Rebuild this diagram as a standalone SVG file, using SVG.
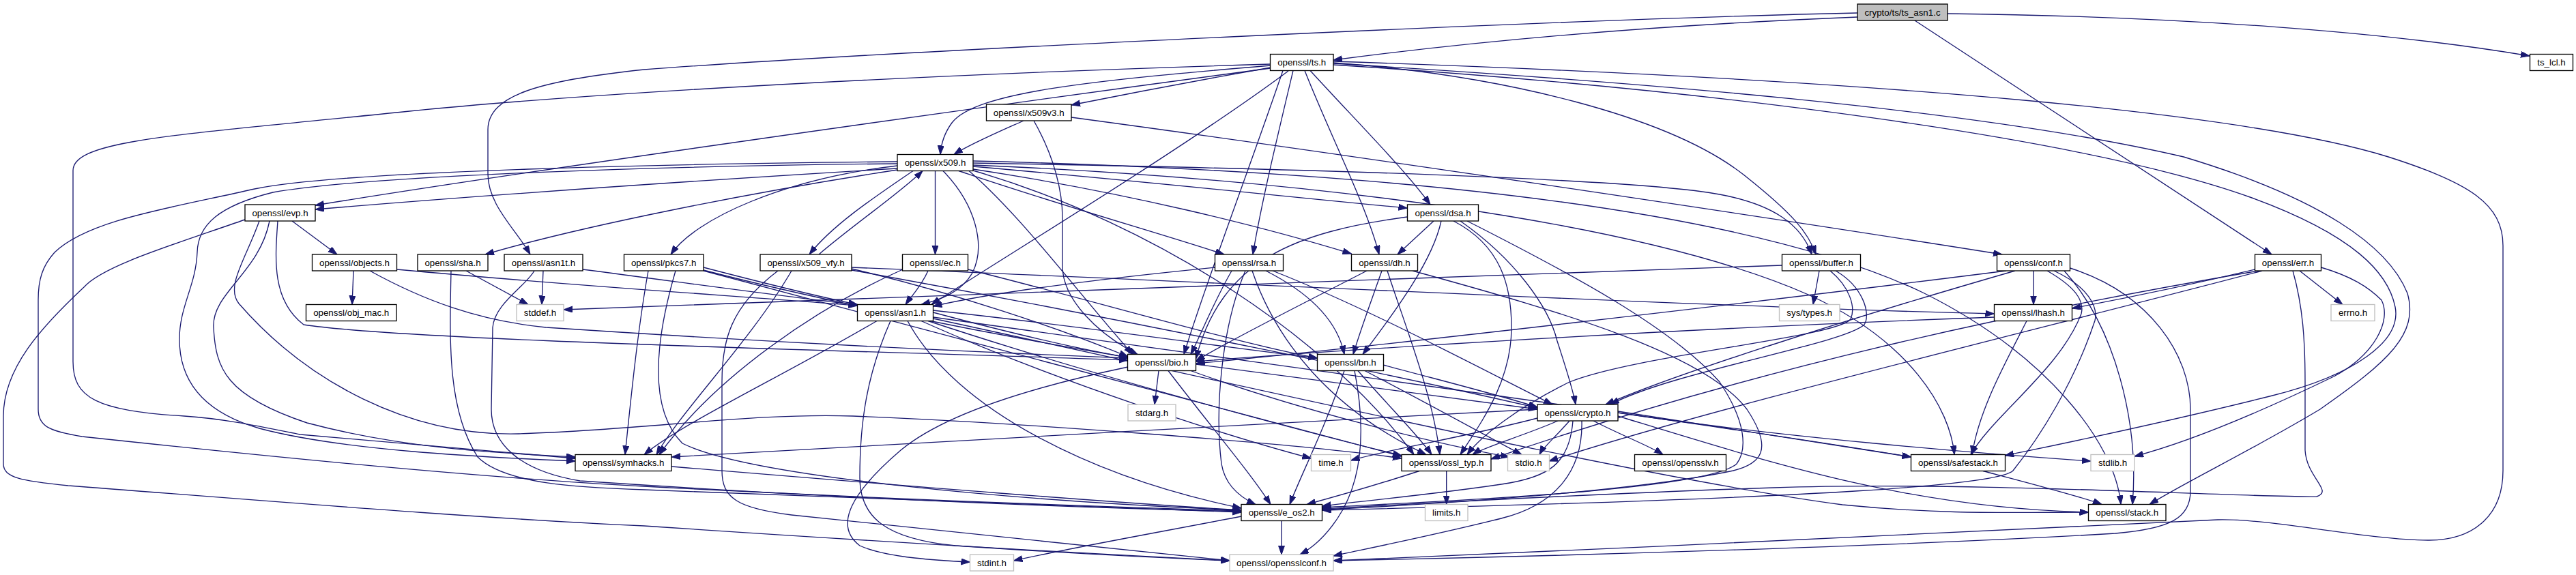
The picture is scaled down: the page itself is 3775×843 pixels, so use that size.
<svg xmlns="http://www.w3.org/2000/svg" width="3775" height="843" viewBox="0 0 3775 843">
<style>
.e{fill:none;stroke:#191970;stroke-width:1.33;marker-end:url(#a)}
.n rect{fill:#fff;stroke:#000;stroke-width:1.33}
.g rect{fill:#fff;stroke:#bfbfbf;stroke-width:1.33}
.m rect{fill:#bfbfbf;stroke:#000;stroke-width:1.33}
text{font-family:"Liberation Sans",Helvetica,Arial,sans-serif;font-size:13.33px;text-anchor:middle;fill:#000}
</style>
<defs>
<marker id="a" markerUnits="userSpaceOnUse" markerWidth="14" markerHeight="10" refX="13" refY="4.5" orient="auto"><path d="M0,0L13,4.5L0,9z" fill="#191970" stroke="#191970" stroke-width="1"/></marker>
</defs>
<rect width="3775" height="843" fill="#fff"/>
<g id="edges">
<path class="e" d="M2722,25 C2400,38 2150,62 1954,88"/>
<path class="e" d="M2854,20 C3200,24 3500,47 3707,82"/>
<path class="e" d="M2806,30 L3329,373"/>
<path class="e" d="M2722,19 C2300,28 1300,75 944,102 C790,118 715,140 715,190 L715,255 C715,300 755,335 777,373"/>
<path class="e" d="M1862,99 C1760,117 1640,140 1570,154"/>
<path class="e" d="M1862,96 C1600,118 1430,135 1395,180 C1384,195 1379,212 1378,226.5"/>
<path class="e" d="M1862,100 C1300,175 700,262 462,301"/>
<path class="e" d="M1862,94 C1400,108 900,133 600,163 C260,198 107,205 107,250 L107,530 C107,583 140,602 270,610 C330,614 380,625 440,637 L843,672"/>
<path class="e" d="M1888,104 C1740,215 1450,390 1365,446.5"/>
<path class="e" d="M1895,103.5 C1872,200 1848,300 1836,373"/>
<path class="e" d="M1912,103.5 C1950,200 2002,300 2021,373"/>
<path class="e" d="M1920,103.5 C1990,180 2060,250 2096,300"/>
<path class="e" d="M1954,92 C2200,110 2450,170 2560,260 C2625,312 2650,340 2661,373"/>
<path class="e" d="M1954,90 C2800,118 3300,168 3500,230 C3620,268 3668,300 3668,360 L3668,690 C3668,760 3620,792 3560,792 C3470,792 3330,760 3250,762 C3100,766 2400,805 1954,822"/>
<path class="e" d="M1954,93 C2400,120 2900,160 3200,230 C3400,290 3500,360 3528,430 C3545,490 3500,530 3400,600 C3300,660 3200,708 3150,739.5"/>
<path class="e" d="M1954,95 C2500,130 3050,200 3300,290 C3450,345 3500,400 3510,450 C3520,500 3450,550 3330,580 C3150,625 3000,655 2938,668"/>
<path class="e" d="M1880,103.5 C1830,250 1765,420 1735,519.5"/>
<path class="e" d="M1500,177 C1462,194 1420,212 1398,226.5"/>
<path class="e" d="M1515,177 C1545,230 1557,280 1557,320 L1557,390 C1557,440 1610,490 1667,519.5"/>
<path class="e" d="M1570,172 C2000,230 2600,320 2934,373"/>
<path class="e" d="M1315,247 C1000,266 700,287 462,307"/>
<path class="e" d="M1315,249 C1100,282 850,332 711,373"/>
<path class="e" d="M1315,243 C1150,262 1020,320 983,373"/>
<path class="e" d="M1338,250.5 C1280,290 1220,330 1186,373"/>
<path class="e" d="M1200,373 C1250,330 1320,282 1352,250.5"/>
<path class="e" d="M1370.5,250.5 L1370.5,373"/>
<path class="e" d="M1405,250.5 C1550,300 1700,342 1794,373"/>
<path class="e" d="M1426,244 C1700,268 1900,290 2062.5,305"/>
<path class="e" d="M1426,248 C1650,282 1850,332 1980.5,372"/>
<path class="e" d="M1426,239 C1900,247 2400,262 2520,285 C2600,300 2640,330 2655,373"/>
<path class="e" d="M1382,250.5 C1430,300 1445,360 1425,400 C1408,430 1375,440 1350,446.5"/>
<path class="e" d="M1315,237 C1000,240 500,250 373,277 C250,305 130,322 80,370 C62,390 56,410 56,440 L56,600 C56,625 72,632 120,640 C400,670 700,700 944,713 C1300,732 1650,744 1819,749"/>
<path class="e" d="M1315,240 C1000,243 550,256 400,282 C320,302 290,330 289,370 C287,420 262,450 263,500 C264,560 300,605 380,628 C500,660 700,670 843,676"/>
<path class="e" d="M1420,250.5 C1500,320 1580,430 1660,519.5"/>
<path class="e" d="M1426,236 C2000,250 2550,300 2820,430 C3000,520 3100,650 3108,739.5"/>
<path class="e" d="M1426,242 C1900,262 2400,322 2650,432 C2800,500 2858,600 2864,666.5"/>
<path class="e" d="M1426,250 C1700,330 1950,500 2072,666.5"/>
<path class="e" d="M1248,392 C1700,410 2500,450 2922.5,460"/>
<path class="e" d="M1248,394 C1400,430 1550,480 1653,523"/>
<path class="e" d="M1248,396 C1600,460 2000,540 2253,598"/>
<path class="e" d="M1160,397 C1100,500 1000,600 962,666.5"/>
<path class="e" d="M1140,397 C1070,450 1058,500 1058,560 L1058,690 C1058,730 1080,745 1160,755 C1400,780 1650,805 1802,822"/>
<path class="e" d="M428,324 L494,373"/>
<path class="e" d="M407,324 C403,380 398,440 445,476 C600,500 1300,515 1653,528"/>
<path class="e" d="M380,324 C360,380 330,420 350,445 C450,560 600,640 760,636 C950,630 1100,605 1250,610 C1500,620 1900,650 2054,672"/>
<path class="e" d="M395,324 C380,400 310,430 313,480 C316,540 330,580 450,620 C600,660 750,665 843,670"/>
<path class="e" d="M359,322 C250,360 150,390 123,421 C60,480 5,540 5,610 L5,680 C5,700 30,705 100,712 C400,735 700,760 944,771 C1300,795 1600,812 1802,822"/>
<path class="e" d="M518,397 L516,446.5"/>
<path class="e" d="M581.5,395 C850,420 1100,435 1256.5,448"/>
<path class="e" d="M542,397 C620,440 700,470 800,480 C1100,500 1400,515 1653,525"/>
<path class="e" d="M683,397 L774,446.5"/>
<path class="e" d="M661,397 C659,500 655,600 700,670 C740,710 850,715 944,718 C1300,730 1650,745 1819,751"/>
<path class="e" d="M796,397 L794,446.5"/>
<path class="e" d="M854,395 C1000,414 1150,435 1256.5,447"/>
<path class="e" d="M783,397 C770,420 725,445 722,480 L720,600 C720,650 760,690 850,705 C1300,735 1650,746 1819,750"/>
<path class="e" d="M1031,392 C1100,410 1200,435 1256.5,446.5"/>
<path class="e" d="M1031,396 C1200,440 1450,490 1653,524"/>
<path class="e" d="M990,397 C960,500 950,600 1000,650 C1100,700 1500,735 1819,748"/>
<path class="e" d="M950,397 C935,480 925,580 916,666.5"/>
<path class="e" d="M1031,397 C1300,470 1800,600 2054,669"/>
<path class="e" d="M1360,397 C1350,420 1335,435 1327,446.5"/>
<path class="e" d="M1323,395 C1200,450 1050,550 966,666.5"/>
<path class="e" d="M1418.5,395 C1600,440 1800,500 1930.5,525"/>
<path class="e" d="M1780.5,392 C1600,410 1450,430 1367.5,449"/>
<path class="e" d="M1805,397 C1780,440 1760,490 1745,519.5"/>
<path class="e" d="M1855,397 C1920,430 1960,470 1970,519.5"/>
<path class="e" d="M1835,397 C1870,500 1950,600 2090,666.5"/>
<path class="e" d="M1865,397 C2000,450 2150,530 2275,593"/>
<path class="e" d="M1825,397 C1790,480 1780,600 1790,680 C1795,710 1815,728 1840,739.5"/>
<path class="e" d="M2101,324 L2048,373"/>
<path class="e" d="M2112,324 C2100,380 2050,450 1997,519.5"/>
<path class="e" d="M2062.5,318 C1900,340 1790,380 1752.5,526"/>
<path class="e" d="M2130,324 C2200,360 2215,420 2215,480 C2215,560 2170,620 2140,666.5"/>
<path class="e" d="M2140,324 C2220,380 2270,450 2282,500 C2295,540 2305,570 2309,593"/>
<path class="e" d="M2150,324 C2300,400 2450,480 2520,560 C2560,620 2560,660 2545,680 C2500,720 2100,735 1937.5,744"/>
<path class="e" d="M2025,397 C2010,440 1995,480 1983,519.5"/>
<path class="e" d="M2033,397 C2060,480 2100,580 2110,666.5"/>
<path class="e" d="M2003,397 C1900,450 1800,500 1752.5,529"/>
<path class="e" d="M2070,397 C2300,460 2500,520 2560,600 C2600,660 2580,680 2540,690 C2400,720 2100,740 1937.5,747"/>
<path class="e" d="M2611.5,389 C2000,410 1200,440 826,454"/>
<path class="e" d="M2666,397 L2657,446.5"/>
<path class="e" d="M2682,397 C2710,420 2720,450 2712,468 C2690,495 2400,520 2300,560 C2220,600 2170,640 2150,666.5"/>
<path class="e" d="M2690,397 C2730,420 2742,460 2732,476 C2700,505 2450,545 2360,593"/>
<path class="e" d="M2980,397 L2980,446.5"/>
<path class="e" d="M3000,397 C3040,420 3055,440 3050,460 C3020,540 2920,610 2888,666.5"/>
<path class="e" d="M3010,397 C3060,420 3075,450 3070,470 C3040,560 2990,640 2950,690 C2930,710 2700,730 1937.5,748"/>
<path class="e" d="M3033.5,393 C3150,430 3210,520 3210,600 L3210,720 C3210,760 3180,775 3100,782 C2800,800 2300,815 1954,822"/>
<path class="e" d="M2953,397 C2700,470 2450,550 2353,593"/>
<path class="e" d="M2940,397 C2600,440 2000,510 1752.5,533"/>
<path class="e" d="M3025,397 C3100,480 3135,620 3125,739.5"/>
<path class="e" d="M3370,397 L3433,446.5"/>
<path class="e" d="M3401.5,392 C3445,405 3470,420 3490,440 C3505,470 3480,520 3420,552 C3300,610 3200,650 3128,669"/>
<path class="e" d="M3304.5,395 C3200,420 3100,440 3036.5,452"/>
<path class="e" d="M3360,397 C3375,450 3378,500 3378,560 L3378,660 C3380,700 3420,720 3395,728 C3300,730 2900,705 2600,715 C2300,725 2050,740 1937.5,746"/>
<path class="e" d="M3315,397 C3000,480 2500,600 2270,676"/>
<path class="e" d="M3310,397 C3000,450 2600,530 2185,673"/>
<path class="e" d="M2922.5,465 C2500,480 2000,510 1752.5,530"/>
<path class="e" d="M2970,470.5 C2940,530 2900,600 2890,666.5"/>
<path class="e" d="M1698,543.5 L1692,593"/>
<path class="e" d="M1653,538 C1500,570 1380,610 1320,660 C1250,720 1220,770 1260,800 C1300,818 1380,822 1421.5,824"/>
<path class="e" d="M1712,543.5 C1770,620 1830,690 1862,739.5"/>
<path class="e" d="M1752.5,534 C1950,560 2150,585 2253,600"/>
<path class="e" d="M1745,543.5 C1900,600 2100,650 2212,670"/>
<path class="e" d="M1970,543.5 C1945,620 1905,700 1890,739.5"/>
<path class="e" d="M1985,543.5 C2000,620 2000,700 1960,760 C1940,790 1920,805 1905,813"/>
<path class="e" d="M1990,543.5 C2030,590 2080,640 2098,666.5"/>
<path class="e" d="M2000,543.5 C2090,590 2180,640 2230,666.5"/>
<path class="e" d="M2027,535 C2120,560 2200,580 2253,597"/>
<path class="e" d="M2253,600 C1900,620 1300,650 984,670"/>
<path class="e" d="M2253,613 C2150,640 2030,660 1979.5,675"/>
<path class="e" d="M2283,617 C2230,640 2175,655 2158,666.5"/>
<path class="e" d="M2300,617 C2280,640 2262,655 2256,666.5"/>
<path class="e" d="M2305,617 C2300,680 2270,700 2200,710 C2100,725 1990,735 1937.5,742"/>
<path class="e" d="M2318,617 C2320,690 2280,740 2200,760 C2100,785 2000,805 1954,815"/>
<path class="e" d="M2335,617 C2380,640 2420,655 2437,666.5"/>
<path class="e" d="M2371,603 C2550,630 2700,655 2800.5,670"/>
<path class="e" d="M2371,610 C2600,680 2800,745 3060.5,751"/>
<path class="e" d="M2371,605 C2600,640 2900,665 3064,676"/>
<path class="e" d="M2906,690.5 C2980,710 3050,728 3080,739.5"/>
<path class="e" d="M2080,690.5 C2020,710 1950,730 1915,739.5"/>
<path class="e" d="M2119.7,690.5 L2119.7,739.5"/>
<path class="e" d="M984,684 C1300,710 1600,735 1819,748"/>
<path class="e" d="M1878,763.5 L1878,813"/>
<path class="e" d="M1819,757 C1700,780 1560,805 1485.5,822"/>
<path class="e" d="M1367.5,458 C1450,480 1570,510 1653,524"/>
<path class="e" d="M1350,470.5 C1550,560 1800,640 1921.5,672"/>
<path class="e" d="M1330,470.5 C1400,600 1600,700 1819,745"/>
<path class="e" d="M1367.5,465 C1900,540 2500,620 2800.5,670"/>
<path class="e" d="M1285,470.5 C1150,550 1000,620 944,666.5"/>
<path class="e" d="M1360,470.5 C1600,550 1900,630 2054,668"/>
<path class="e" d="M1367.5,455 C1600,480 1800,510 1930.5,525"/>
<path class="e" d="M1305,470.5 C1270,550 1260,620 1260,700 C1260,760 1300,790 1400,800 C1550,810 1700,818 1802,822"/>
<path class="e" d="M1367.5,467 C1800,560 2400,700 2700,740 C2850,755 2950,751 3060.5,751"/>
</g>
<g id="node_ts_asn1_c" class="m"><rect x="2722" y="6" width="132" height="24"/><text x="2788" y="22.7">crypto/ts/ts_asn1.c</text></g>
<g id="node_ts_h" class="n"><rect x="1861.5" y="79.5" width="92.5" height="24"/><text x="1907.7" y="96.2">openssl/ts.h</text></g>
<g id="node_ts_lcl_h" class="n"><rect x="3707.5" y="79.5" width="63" height="24"/><text x="3739" y="96.2">ts_lcl.h</text></g>
<g id="node_x509v3_h" class="n"><rect x="1445.5" y="153" width="124.5" height="24"/><text x="1507.7" y="169.7">openssl/x509v3.h</text></g>
<g id="node_x509_h" class="n"><rect x="1315" y="226.5" width="111" height="24"/><text x="1370.5" y="243.2">openssl/x509.h</text></g>
<g id="node_evp_h" class="n"><rect x="359" y="300" width="103" height="24"/><text x="410.5" y="316.7">openssl/evp.h</text></g>
<g id="node_dsa_h" class="n"><rect x="2062.5" y="300" width="104" height="24"/><text x="2114.5" y="316.7">openssl/dsa.h</text></g>
<g id="node_objects_h" class="n"><rect x="457.5" y="373" width="124" height="24"/><text x="519.5" y="389.7">openssl/objects.h</text></g>
<g id="node_sha_h" class="n"><rect x="612" y="373" width="103" height="24"/><text x="663.5" y="389.7">openssl/sha.h</text></g>
<g id="node_asn1t_h" class="n"><rect x="739" y="373" width="115" height="24"/><text x="796.5" y="389.7">openssl/asn1t.h</text></g>
<g id="node_pkcs7_h" class="n"><rect x="914.5" y="373" width="116.5" height="24"/><text x="972.7" y="389.7">openssl/pkcs7.h</text></g>
<g id="node_x509_vfy_h" class="n"><rect x="1114" y="373" width="134" height="24"/><text x="1181" y="389.7">openssl/x509_vfy.h</text></g>
<g id="node_ec_h" class="n"><rect x="1322.5" y="373" width="96" height="24"/><text x="1370.5" y="389.7">openssl/ec.h</text></g>
<g id="node_rsa_h" class="n"><rect x="1780.5" y="373" width="100" height="24"/><text x="1830.5" y="389.7">openssl/rsa.h</text></g>
<g id="node_dh_h" class="n"><rect x="1980.5" y="373" width="97" height="24"/><text x="2029" y="389.7">openssl/dh.h</text></g>
<g id="node_buffer_h" class="n"><rect x="2611.5" y="373" width="115" height="24"/><text x="2669" y="389.7">openssl/buffer.h</text></g>
<g id="node_conf_h" class="n"><rect x="2926.5" y="373" width="107" height="24"/><text x="2980" y="389.7">openssl/conf.h</text></g>
<g id="node_err_h" class="n"><rect x="3304.5" y="373" width="97" height="24"/><text x="3353" y="389.7">openssl/err.h</text></g>
<g id="node_obj_mac_h" class="n"><rect x="448.5" y="446.5" width="132.5" height="24"/><text x="514.7" y="463.2">openssl/obj_mac.h</text></g>
<g id="node_stddef_h" class="g"><rect x="757" y="446.5" width="69" height="24"/><text x="791.5" y="463.2">stddef.h</text></g>
<g id="node_asn1_h" class="n"><rect x="1256.5" y="446.5" width="111" height="24"/><text x="1312" y="463.2">openssl/asn1.h</text></g>
<g id="node_sys_types_h" class="g"><rect x="2607.5" y="446.5" width="88.5" height="24"/><text x="2651.7" y="463.2">sys/types.h</text></g>
<g id="node_lhash_h" class="n"><rect x="2922.5" y="446.5" width="114" height="24"/><text x="2979.5" y="463.2">openssl/lhash.h</text></g>
<g id="node_errno_h" class="g"><rect x="3416" y="446.5" width="64" height="24"/><text x="3448" y="463.2">errno.h</text></g>
<g id="node_bio_h" class="n"><rect x="1652.5" y="519.5" width="100" height="24"/><text x="1702.5" y="536.2">openssl/bio.h</text></g>
<g id="node_bn_h" class="n"><rect x="1930.5" y="519.5" width="97" height="24"/><text x="1979" y="536.2">openssl/bn.h</text></g>
<g id="node_stdarg_h" class="g"><rect x="1653" y="593" width="70" height="24"/><text x="1688" y="609.7">stdarg.h</text></g>
<g id="node_crypto_h" class="n"><rect x="2253" y="593" width="118" height="24"/><text x="2312" y="609.7">openssl/crypto.h</text></g>
<g id="node_symhacks_h" class="n"><rect x="843" y="666.5" width="141" height="24"/><text x="913.5" y="683.2">openssl/symhacks.h</text></g>
<g id="node_time_h" class="g"><rect x="1921.5" y="666.5" width="58" height="24"/><text x="1950.5" y="683.2">time.h</text></g>
<g id="node_ossl_typ_h" class="n"><rect x="2054" y="666.5" width="131" height="24"/><text x="2119.5" y="683.2">openssl/ossl_typ.h</text></g>
<g id="node_stdio_h" class="g"><rect x="2209.5" y="666.5" width="61" height="24"/><text x="2240" y="683.2">stdio.h</text></g>
<g id="node_opensslv_h" class="n"><rect x="2395.5" y="666.5" width="134" height="24"/><text x="2462.5" y="683.2">openssl/opensslv.h</text></g>
<g id="node_safestack_h" class="n"><rect x="2800.5" y="666.5" width="138" height="24"/><text x="2869.5" y="683.2">openssl/safestack.h</text></g>
<g id="node_stdlib_h" class="g"><rect x="3064" y="666.5" width="64" height="24"/><text x="3096" y="683.2">stdlib.h</text></g>
<g id="node_e_os2_h" class="n"><rect x="1819" y="739.5" width="118.5" height="24"/><text x="1878.2" y="756.2">openssl/e_os2.h</text></g>
<g id="node_limits_h" class="g"><rect x="2088.5" y="739.5" width="62.5" height="24"/><text x="2119.7" y="756.2">limits.h</text></g>
<g id="node_stack_h" class="n"><rect x="3060.5" y="739.5" width="113.5" height="24"/><text x="3117.2" y="756.2">openssl/stack.h</text></g>
<g id="node_stdint_h" class="g"><rect x="1421.5" y="813" width="64" height="24"/><text x="1453.5" y="829.7">stdint.h</text></g>
<g id="node_opensslconf_h" class="g"><rect x="1802" y="813" width="152" height="24"/><text x="1878" y="829.7">openssl/opensslconf.h</text></g>
</svg>
